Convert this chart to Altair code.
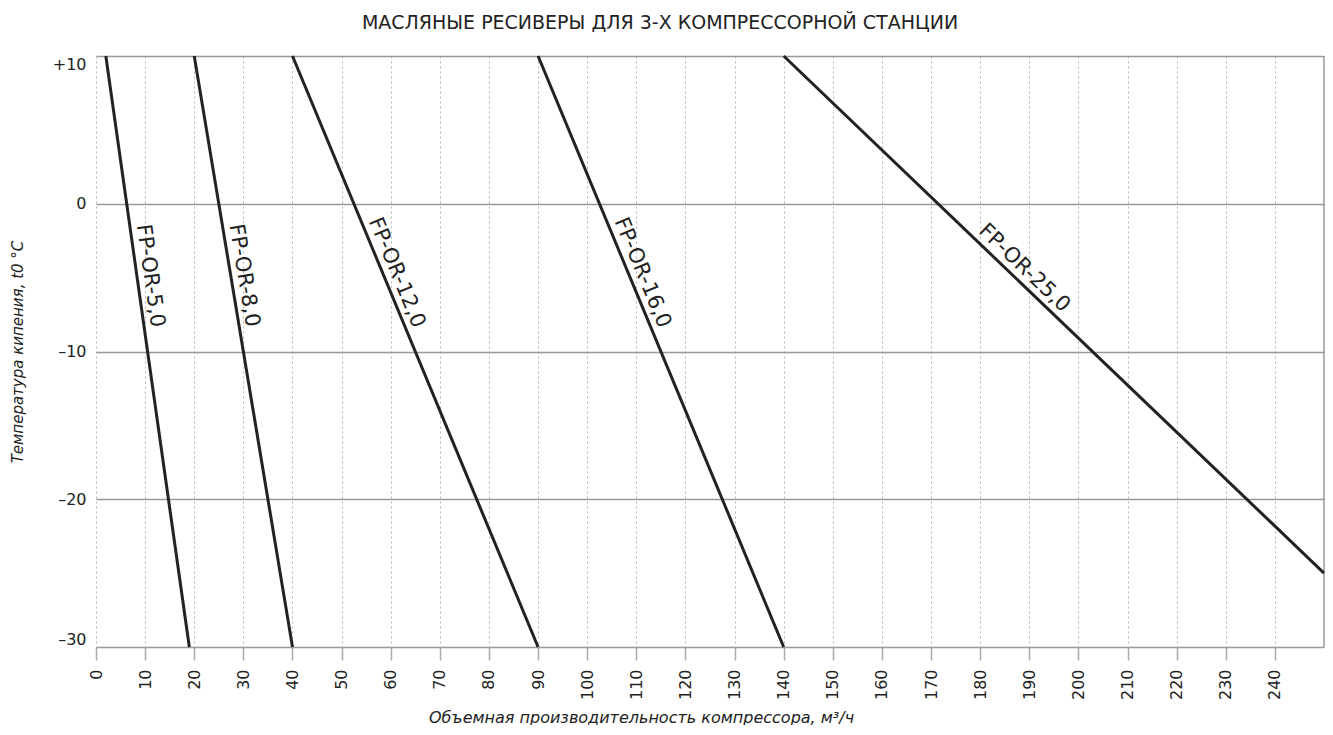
import math
import altair as alt
import pandas as pd

# ---- data ----
series = ["FP-OR-5,0", "FP-OR-8,0", "FP-OR-12,0", "FP-OR-16,0", "FP-OR-25,0"]
x_start = [2, 20, 40, 90, 140]        # m3/h at t0 = +10
t_start = [10, 10, 10, 10, 10]
x_end = [19, 40, 90, 140, 250]       # m3/h at the lower end
t_end = [-30, -30, -30, -30, -25]
label_t = [-5, -5, -5, -5, -5]       # temperature where each label sits

x_ticks = list(range(0, 250, 10))
y_ticks = [10, 0, -10, -20, -30]

W, H = 1228, 591
X_MAX, Y_MIN, Y_MAX = 250, -30, 10
FONT = "DejaVu Sans"

rows = []
for s, xs, ts, xe, te in zip(series, x_start, t_start, x_end, t_end):
    rows.append({"series": s, "x": xs, "t": ts, "ord": 0})
    rows.append({"series": s, "x": xe, "t": te, "ord": 1})
lines_df = pd.DataFrame(rows)

lab_rows = []
for s, xs, ts, xe, te, lt in zip(series, x_start, t_start, x_end, t_end, label_t):
    frac = (ts - lt) / (ts - te)
    lx = xs + frac * (xe - xs)
    dxp = (xe - xs) * W / X_MAX
    dyp = (ts - te) * H / (Y_MAX - Y_MIN)
    ang = math.degrees(math.atan2(dyp, dxp))
    lab_rows.append({"series": s, "x": lx, "t": lt, "angle": ang})
lab_df = pd.DataFrame(lab_rows)

xs_scale = alt.Scale(domain=[0, X_MAX], nice=False, zero=False)
ys_scale = alt.Scale(domain=[Y_MIN, Y_MAX], nice=False, zero=False)

x_axis = alt.Axis(
    values=x_ticks, labelAngle=270, labelFontSize=16, labelColor="#222",
    labelFont=FONT, labelPadding=9, tickSize=13, tickColor="#aaa", tickWidth=1.5,
    grid=True, gridDash=[2, 3], gridColor="#b5b5b5", gridWidth=1,
    domain=False,
    title="Объемная производительность компрессора, м³/ч",
    titleFont=FONT, titleFontSize=16, titleFontStyle="italic",
    titleFontWeight="normal", titleColor="#222",
    titleX=545, titleY=75, titleBaseline="alphabetic", titleAnchor="start",
    titleAlign="center",
)
y_axis = alt.Axis(
    values=y_ticks, labelFontSize=16, labelColor="#222", labelFont=FONT,
    labelPadding=10, ticks=False, domain=False, labelFlush=True,
    labelExpr="datum.value > 0 ? '+' + datum.value : replace(datum.label, '−', '–')",
    grid=True, gridColor="#999", gridWidth=1.5,
    title="Температура кипения, t0 °C",
    titleFont=FONT, titleFontSize=15, titleFontStyle="italic",
    titleFontWeight="normal", titleColor="#222",
    titleX=-79, titleY=H / 2, titleAngle=270, titleAlign="center",
    titleBaseline="middle", titleAnchor="start",
)

base_lines = alt.Chart(lines_df).mark_line(color="#222", strokeWidth=3).encode(
    x=alt.X("x:Q", scale=xs_scale, axis=x_axis),
    y=alt.Y("t:Q", scale=ys_scale, axis=y_axis),
    detail="series:N",
    order="ord:Q",
)

labels = alt.Chart(lab_df).mark_text(
    font=FONT, fontSize=21, color="#222", align="center", baseline="bottom", dy=-3,
).encode(
    x=alt.X("x:Q", scale=xs_scale),
    y=alt.Y("t:Q", scale=ys_scale),
    text="series:N",
    angle=alt.Angle("angle:Q", scale=None),
)

right_border = alt.Chart(pd.DataFrame({"x": [X_MAX]})).mark_rule(
    color="#999", strokeWidth=1.5
).encode(x=alt.X("x:Q", scale=xs_scale))

chart = alt.layer(right_border, base_lines, labels).properties(
    width=W, height=H,
    autosize=alt.AutoSizeParams(type="none"),
    padding={"left": 88, "top": 48, "right": 1, "bottom": 78},
    title=alt.TitleParams(
        "МАСЛЯНЫЕ РЕСИВЕРЫ ДЛЯ 3-Х КОМПРЕССОРНОЙ СТАНЦИИ",
        font=FONT, fontSize=19, fontWeight="normal", color="#222",
        anchor="middle", dx=-50, offset=17,
    ),
).configure_view(stroke=None)

chart.save("out.html", embed_options={"renderer": "svg", "actions": False})
